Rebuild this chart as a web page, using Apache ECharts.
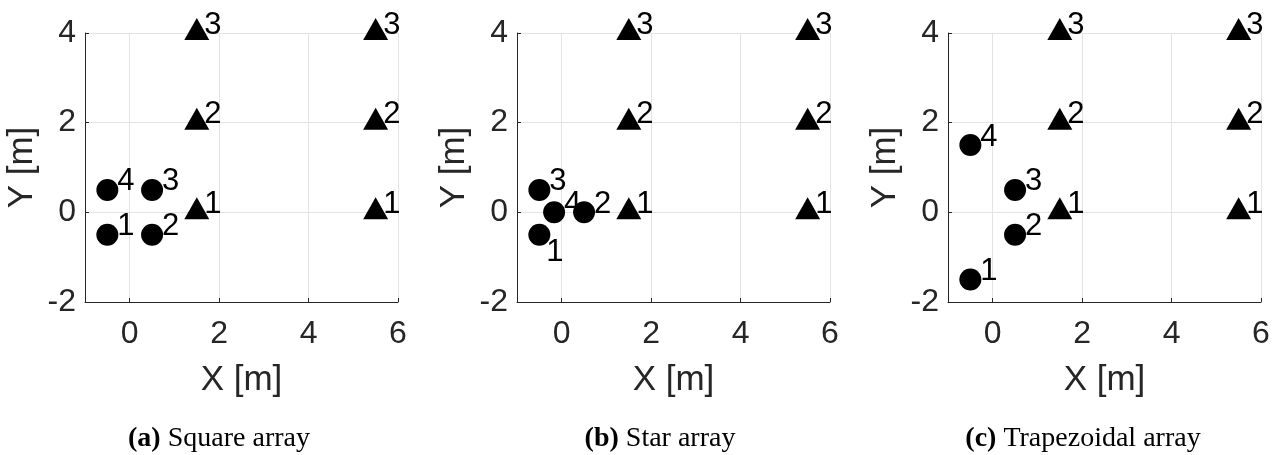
<!DOCTYPE html>
<html>
<head>
<meta charset="utf-8">
<script src="https://cdn.jsdelivr.net/npm/echarts@6/dist/echarts.min.js"></script>
<style>html,body{margin:0;padding:0;background:#fff}#c{width:1277px;height:455px}</style>
</head>
<body>
<div id="c"></div>
<script>
// ---- data ----
const txX = [1.5, 1.5, 1.5, 5.5, 5.5, 5.5];
const txY = [0, 2, 4, 0, 2, 4];
const txLabels = ['1', '2', '3', '1', '2', '3'];

const squareX = [-0.5, 0.5, 0.5, -0.5];
const squareY = [-0.5, -0.5, 0.5, 0.5];
const starX = [-0.5, 0.5, -0.5, -0.17];
const starY = [-0.5, 0, 0.5, 0];
const trapX = [-0.5, 0.5, 0.5, -0.5];
const trapY = [-1.5, -0.5, 0.5, 1.5];
const rxLabels = ['1', '2', '3', '4'];

const xTicks = [0, 2, 4, 6];
const yTicks = [-2, 0, 2, 4];
const captionLetters = ['(a)', '(b)', '(c)'];
const captionTexts = ['Square array', 'Star array', 'Trapezoidal array'];

// ---- layout ----
const panels = [
  { x: squareX, y: squareY, left: 85, cap: 219 },
  { x: starX, y: starY, left: 517, cap: 660 },
  { x: trapX, y: trapY, left: 948, cap: 1083 }
];
// label placed below the point (panel b, label "1")
const belowLabels = { '1-0': true };

const AX = '#262626';
const FONT = 'Liberation Sans, Arial, sans-serif';
const grids = [], xAxes = [], yAxes = [], series = [], graphics = [];

function labelCfg(offX, offY) {
  return {
    show: true, position: 'right', distance: 0, offset: [offX, offY],
    formatter: '{b}', color: '#000', fontFamily: FONT, fontSize: 31
  };
}

panels.forEach((p, i) => {
  grids.push({ left: p.left, top: 33, width: 313, height: 269, containLabel: false });
  xAxes.push({
    type: 'value', gridIndex: i, min: -1, max: 6,
    name: 'X [m]', nameLocation: 'middle', nameGap: 61,
    nameTextStyle: { fontFamily: FONT, fontSize: 35, color: AX },
    axisLine: { show: true, onZero: false, lineStyle: { color: AX, width: 1 } },
    axisTick: { show: true, inside: true, length: 4, lineStyle: { color: AX }, customValues: xTicks },
    axisLabel: { customValues: xTicks, margin: 16, color: AX, fontFamily: FONT, fontSize: 32 },
    splitLine: { show: true, lineStyle: { color: '#e3e3e3', width: 1 } }
  });
  yAxes.push({
    type: 'value', gridIndex: i, min: yTicks[0], max: yTicks[yTicks.length - 1], interval: 2,
    name: 'Y [m]', nameLocation: 'middle', nameGap: 45, nameRotate: 90,
    nameTextStyle: { fontFamily: FONT, fontSize: 35, color: AX },
    axisLine: { show: true, onZero: false, lineStyle: { color: AX, width: 1 } },
    axisTick: { show: true, inside: true, length: 4, lineStyle: { color: AX } },
    axisLabel: { margin: 9, color: AX, fontFamily: FONT, fontSize: 32 },
    splitLine: { show: true, lineStyle: { color: '#e3e3e3', width: 1 } }
  });
  series.push({
    type: 'scatter', xAxisIndex: i, yAxisIndex: i,
    symbol: 'triangle', symbolSize: [25, 22], symbolOffset: [0, -4],
    itemStyle: { color: '#000', opacity: 1 },
    label: labelCfg(-5, -4),
    data: txX.map((x, k) => ({ name: txLabels[k], value: [x, txY[k]] }))
  });
  series.push({
    type: 'scatter', xAxisIndex: i, yAxisIndex: i,
    symbol: 'circle', symbolSize: 22,
    itemStyle: { color: '#000', opacity: 1 },
    label: labelCfg(-1, -8),
    data: p.x.map((x, k) => {
      const d = { name: rxLabels[k], value: [x, p.y[k]] };
      if (belowLabels[i + '-' + k]) d.label = { offset: [-4, 18] };
      return d;
    })
  });
  graphics.push({
    type: 'text', x: p.cap, y: 439,
    style: {
      text: '{b|' + captionLetters[i] + '} ' + captionTexts[i],
      align: 'center', verticalAlign: 'middle',
      font: '28px "Liberation Serif", "Times New Roman", serif', fill: '#000',
      rich: { b: { fontWeight: 'bold', fontFamily: 'Liberation Serif', fontSize: 28, fill: '#000' } }
    }
  });
});

const chart = echarts.init(document.getElementById('c'), null, { renderer: 'canvas' });
chart.setOption({
  animation: false,
  backgroundColor: '#fff',
  grid: grids, xAxis: xAxes, yAxis: yAxes, series: series, graphic: graphics
});
</script>
</body>
</html>
